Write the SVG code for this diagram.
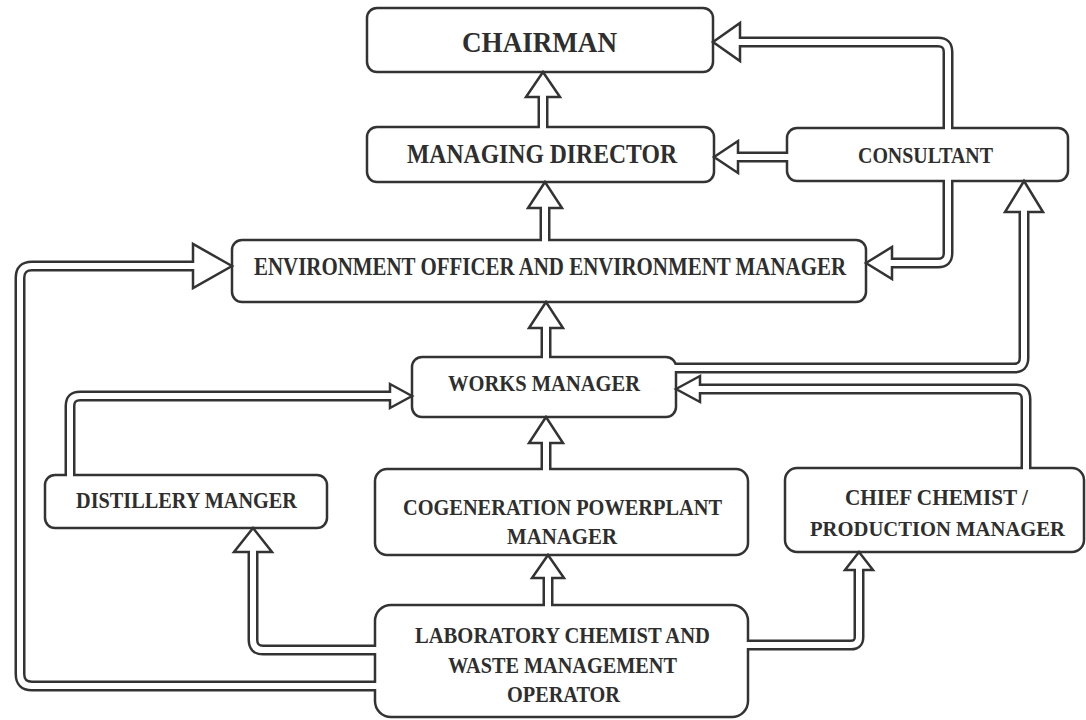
<svg xmlns="http://www.w3.org/2000/svg" width="1086" height="720" viewBox="0 0 1086 720">
<style>
.box{fill:#fff;stroke:#333;stroke-width:2.5}
.t{font-family:"Liberation Serif","Times New Roman",serif;font-weight:bold;fill:#2e2e2e;font-size:24px}
.m{text-anchor:middle}
.o{fill:none;stroke:#333;stroke-width:11;stroke-linecap:butt;stroke-linejoin:round}
.i{fill:none;stroke:#fff;stroke-width:6;stroke-linecap:butt;stroke-linejoin:round}
.h{fill:#fff;stroke:#333;stroke-width:2.5;stroke-linejoin:miter}
</style>
<rect width="1086" height="720" fill="#fff"/>
<g id="nodes">
<g id="chairman"><rect class="box" x="367" y="8" width="346" height="64" rx="10"/><text class="t" x="462" y="52" style="font-size:30px" textLength="155" lengthAdjust="spacingAndGlyphs">CHAIRMAN</text></g>
<g id="managing-director"><rect class="box" x="367" y="127" width="347" height="55" rx="10"/><text class="t" x="407" y="163" style="font-size:27px" textLength="270" lengthAdjust="spacingAndGlyphs">MANAGING DIRECTOR</text></g>
<g id="consultant"><rect class="box" x="787" y="128" width="281" height="53" rx="10"/><text class="t" x="858" y="163" textLength="135" lengthAdjust="spacingAndGlyphs">CONSULTANT</text></g>
<g id="environment"><rect class="box" x="232" y="240" width="634" height="62" rx="10"/><text class="t" x="254" y="275" style="font-size:25px" textLength="592" lengthAdjust="spacingAndGlyphs">ENVIRONMENT OFFICER AND ENVIRONMENT MANAGER</text></g>
<g id="works-manager"><rect class="box" x="412" y="357" width="264" height="60" rx="10"/><text class="t" x="448" y="391" textLength="192" lengthAdjust="spacingAndGlyphs">WORKS MANAGER</text></g>
<g id="distillery"><rect class="box" x="45" y="475" width="282" height="53" rx="10"/><text class="t" x="76" y="508" textLength="221" lengthAdjust="spacingAndGlyphs">DISTILLERY MANGER</text></g>
<g id="cogeneration"><rect class="box" x="375" y="469" width="373" height="86" rx="12"/><text class="t" x="403" y="515" textLength="319" lengthAdjust="spacingAndGlyphs">COGENERATION POWERPLANT</text><text class="t" x="507" y="544" textLength="110" lengthAdjust="spacingAndGlyphs">MANAGER</text></g>
<g id="chief-chemist"><rect class="box" x="785" y="468" width="299" height="84" rx="12"/><text class="t m" x="936.5" y="505" style="font-size:23px" textLength="183" lengthAdjust="spacingAndGlyphs">CHIEF CHEMIST /</text><text class="t m" x="937.5" y="536" style="font-size:22px" textLength="255" lengthAdjust="spacingAndGlyphs">PRODUCTION MANAGER</text></g>
<g id="laboratory"><rect class="box" x="375" y="605" width="373" height="112" rx="16"/><text class="t" x="415" y="643" textLength="295" lengthAdjust="spacingAndGlyphs">LABORATORY CHEMIST AND</text><text class="t" x="448" y="673" textLength="229" lengthAdjust="spacingAndGlyphs">WASTE MANAGEMENT</text><text class="t" x="507" y="702" textLength="113" lengthAdjust="spacingAndGlyphs">OPERATOR</text></g>
</g>
<g id="connectors">
<!-- MD to Chairman -->
<path class="o" d="M543,127 V97"/><polygon class="h" points="543,72 526,97 560,97"/><path class="i" d="M543,129 V95"/>
<!-- ENV to MD -->
<path class="o" d="M545,240 V208"/><polygon class="h" points="545,182 528,208 562,208"/><path class="i" d="M545,242 V206"/>
<!-- Works to ENV -->
<path class="o" d="M546,357 V328"/><polygon class="h" points="546,302 529,328 563,328"/><path class="i" d="M546,359 V326"/>
<!-- Cogen to Works -->
<path class="o" d="M546,469 V443"/><polygon class="h" points="546,417 529,443 563,443"/><path class="i" d="M546,471 V441"/>
<!-- Lab to Cogen -->
<path class="o" d="M548,605 V578"/><polygon class="h" points="548,555 532,578 564,578"/><path class="i" d="M548,607 V576"/>
<!-- Consultant to MD -->
<path class="o" d="M787,157 H738"/><polygon class="h" points="714,157 738,141 738,173"/><path class="i" d="M789,157 H736"/>
<!-- Consultant to Chairman -->
<path class="o" d="M948,128 V52 Q948,42 938,42 H740"/><polygon class="h" points="713,42 740,23 740,61"/><path class="i" d="M948,130 V52 Q948,42 938,42 H738"/>
<!-- Consultant to ENV -->
<path class="o" d="M948,181 V253 Q948,263 938,263 H892"/><polygon class="h" points="866,263 892,247 892,279"/><path class="i" d="M948,179 V253 Q948,263 938,263 H890"/>
<!-- Works to Consultant -->
<path class="o" d="M676,368 H1014 Q1024,368 1024,358 V212"/><polygon class="h" points="1024,181 1005,212 1043,212"/><path class="i" d="M674,368 H1014 Q1024,368 1024,358 V210"/>
<!-- Chief to Works -->
<path class="o" d="M1026,468 V399 Q1026,389 1016,389 H700"/><polygon class="h" points="676,389 700,376 700,402"/><path class="i" d="M1026,470 V399 Q1026,389 1016,389 H698"/>
<!-- Distillery to Works -->
<path class="o" d="M70,475 V406 Q70,396 80,396 H390"/><polygon class="h" points="412,396 390,384 390,408"/><path class="i" d="M70,477 V406 Q70,396 80,396 H392"/>
<!-- Lab to ENV -->
<path class="o" d="M375,686 H32 Q20,686 20,674 V278 Q20,266 32,266 H193"/><polygon class="h" points="232,266 193,244 193,288"/><path class="i" d="M377,686 H32 Q20,686 20,674 V278 Q20,266 32,266 H195"/>
<!-- Lab to Distillery -->
<path class="o" d="M375,650 H263 Q253,650 253,640 V552"/><polygon class="h" points="253,528 234,552 272,552"/><path class="i" d="M377,650 H263 Q253,650 253,640 V550"/>
<!-- Lab to Chief -->
<path class="o" d="M748,645 H851 Q859,645 859,637 V570"/><polygon class="h" points="859,552 845,570 873,570"/><path class="i" d="M746,645 H851 Q859,645 859,637 V568"/>
</g>
</svg>
